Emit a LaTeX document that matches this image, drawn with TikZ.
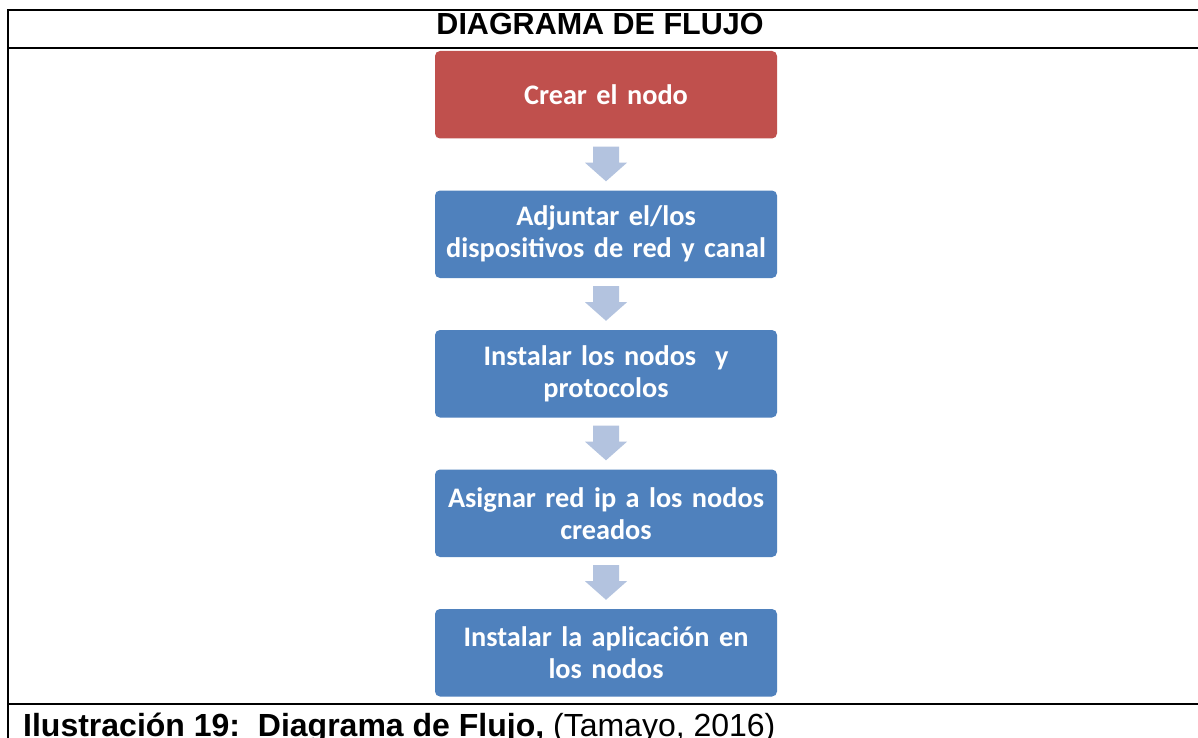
\documentclass[tikz,border=0pt]{standalone}
\usepackage{fontspec}
\setmainfont{Liberation Sans}
\newfontfamily\boxfont{Carlito}
\usetikzlibrary{calc}
\definecolor{boxred}{HTML}{C0504D}
\definecolor{boxblue}{HTML}{4F81BD}
\definecolor{arrowblue}{HTML}{B3C3DF}
\begin{document}
\begin{tikzpicture}[x=1pt,y=-1pt,
  stepbox/.style={fill=boxblue, rounded corners=5pt, minimum width=342pt,
    minimum height=87.5pt, text width=334pt, align=center,
    font=\boxfont\bfseries\fontsize{28.3}{32}\selectfont, text=white, inner sep=0pt},
  firstbox/.style={stepbox, fill=boxred},
  flowarrow/.style={fill=arrowblue, draw=none},
  frameline/.style={line width=2.2pt, black},
  titletext/.style={font=\bfseries\fontsize{30.5}{30.5}\selectfont, anchor=base, inner sep=0pt},
  captiontext/.style={font=\fontsize{32}{32}\selectfont, anchor=base west, inner sep=0pt}]
\useasboundingbox (0,0) rectangle (1198,738);
\fill[white] (0,0) rectangle (1198,738);
% table frame
\draw[frameline] (8.3,738) -- (8.3,10.3) -- (1199,10.3);
\draw[frameline] (8.3,47.8) -- (1199,47.8);
\draw[frameline] (8.3,704) -- (1199,704);
% title
\node[titletext] (title) at (600,35) {DIAGRAMA DE FLUJO};
% boxes
\node[firstbox] (b1) at (606,94.75) {Crear el nodo};
\node[stepbox] (b2) at (606,234.25) {Adjuntar el/los\\dispositivos de red y canal};
\node[stepbox] (b3) at (606,373.75) {Instalar los nodos\ \ y\\protocolos};
\node[stepbox] (b4) at (606,513.25) {Asignar red ip a los nodos\\creados};
\node[stepbox] (b5) at (606,652.75) {Instalar la aplicación en\\los nodos};
% arrows
\foreach \a/\b in {b1/b2,b2/b3,b3/b4,b4/b5}{
  \fill[flowarrow] ($(\a.south)+(-13,8)$) -- ($(\a.south)+(13,8)$)
    -- ($(\a.south)+(13,24)$) -- ($(\a.south)+(21,24)$)
    -- ($(\b.north)+(0,-9)$) -- ($(\a.south)+(-21,24)$)
    -- ($(\a.south)+(-13,24)$) -- cycle;
}
% caption
\node[captiontext] (caption) at (23,736) {\textbf{Ilustración 19:\ \ Diagrama de Flujo,} (Tamayo, 2016)};
\end{tikzpicture}
\end{document}
